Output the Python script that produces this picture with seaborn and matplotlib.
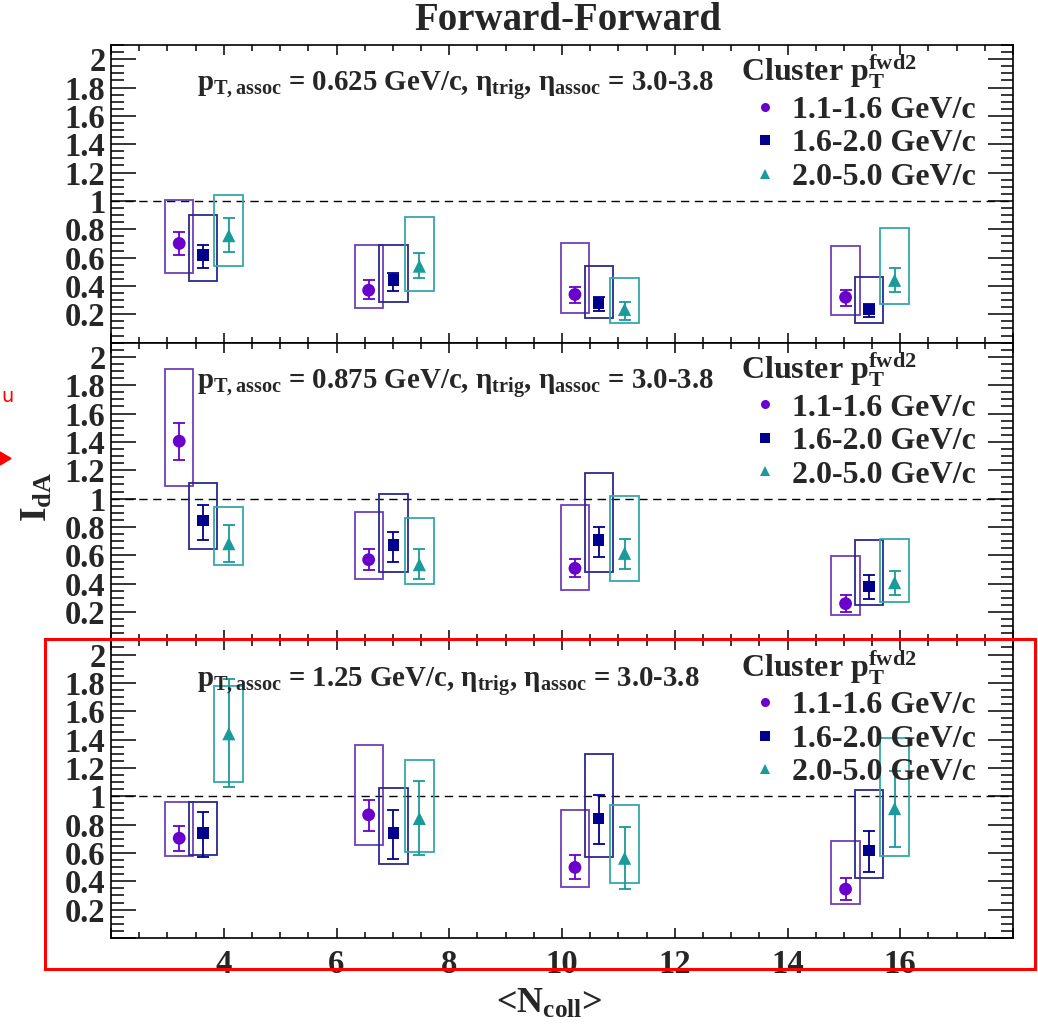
import numpy as np
import pandas as pd
import matplotlib
matplotlib.use("Agg")
import matplotlib.pyplot as plt
from matplotlib.patches import Rectangle, Polygon
from matplotlib.lines import Line2D
from matplotlib.ticker import MultipleLocator, FuncFormatter
import seaborn as sns

# ---------------- data ----------------
series = ["1.1-1.6 GeV/c", "1.6-2.0 GeV/c", "2.0-5.0 GeV/c"]
x_c = [3.21, 6.57, 10.23, 15.03]
x_s = [3.63, 7.01, 10.65, 15.45]
x_t = [4.09, 7.47, 11.11, 15.90]

pt_assoc = ["0.625", "0.875", "1.25"]

# panel 1 (pT,assoc = 0.625)
p1_c_val = [0.70, 0.37, 0.34, 0.32]
p1_c_hi = [0.78, 0.44, 0.39, 0.375]
p1_c_lo = [0.62, 0.31, 0.28, 0.257]
p1_c_sys_hi = [1.01, 0.69, 0.70, 0.685]
p1_c_sys_lo = [0.495, 0.244, 0.209, 0.193]
p1_s_val = [0.62, 0.44, 0.28, 0.235]
p1_s_hi = [0.69, 0.49, 0.32, 0.275]
p1_s_lo = [0.53, 0.365, 0.225, 0.178]
p1_s_sys_hi = [0.90, 0.69, 0.54, 0.46]
p1_s_sys_lo = [0.433, 0.287, 0.176, 0.14]
p1_t_val = [0.755, 0.54, 0.235, 0.44]
p1_t_hi = [0.88, 0.635, 0.287, 0.524]
p1_t_lo = [0.638, 0.453, 0.16, 0.358]
p1_t_sys_hi = [1.04, 0.89, 0.453, 0.81]
p1_t_sys_lo = [0.54, 0.365, 0.138, 0.271]

# panel 2 (pT,assoc = 0.875)
p2_c_val = [1.405, 0.569, 0.508, 0.259]
p2_c_hi = [1.534, 0.647, 0.576, 0.318]
p2_c_lo = [1.275, 0.494, 0.445, 0.20]
p2_c_sys_hi = [1.913, 0.906, 0.958, 0.595]
p2_c_sys_lo = [1.087, 0.433, 0.355, 0.181]
p2_s_val = [0.845, 0.671, 0.708, 0.381]
p2_s_hi = [0.958, 0.767, 0.80, 0.459]
p2_s_lo = [0.708, 0.553, 0.586, 0.294]
p2_s_sys_hi = [1.111, 1.033, 1.181, 0.708]
p2_s_sys_lo = [0.645, 0.485, 0.485, 0.252]
p2_t_val = [0.682, 0.534, 0.614, 0.407]
p2_t_hi = [0.812, 0.647, 0.715, 0.492]
p2_t_lo = [0.553, 0.433, 0.504, 0.318]
p2_t_sys_hi = [0.939, 0.864, 1.019, 0.715]
p2_t_sys_lo = [0.534, 0.398, 0.416, 0.268]

# panel 3 (pT,assoc = 1.25)
p3_c_val = [0.704, 0.869, 0.498, 0.345]
p3_c_hi = [0.791, 0.972, 0.585, 0.423]
p3_c_lo = [0.613, 0.758, 0.413, 0.268]
p3_c_sys_hi = [0.962, 1.359, 0.904, 0.681]
p3_c_sys_lo = [0.575, 0.653, 0.362, 0.239]
p3_s_val = [0.739, 0.739, 0.843, 0.617]
p3_s_hi = [0.892, 0.904, 1.007, 0.758]
p3_s_lo = [0.568, 0.559, 0.662, 0.467]
p3_s_sys_hi = [0.962, 1.059, 1.298, 1.042]
p3_s_sys_lo = [0.585, 0.523, 0.568, 0.423]
p3_t_val = [1.441, 0.843, 0.563, 0.913]
p3_t_hi = [1.829, 1.108, 0.784, 1.178]
p3_t_lo = [1.068, 0.585, 0.345, 0.645]
p3_t_sys_hi = [1.779, 1.256, 0.939, 1.411]
p3_t_sys_lo = [1.099, 0.61, 0.387, 0.577]

panels = [
    [(x_c, p1_c_val, p1_c_lo, p1_c_hi, p1_c_sys_lo, p1_c_sys_hi),
     (x_s, p1_s_val, p1_s_lo, p1_s_hi, p1_s_sys_lo, p1_s_sys_hi),
     (x_t, p1_t_val, p1_t_lo, p1_t_hi, p1_t_sys_lo, p1_t_sys_hi)],
    [(x_c, p2_c_val, p2_c_lo, p2_c_hi, p2_c_sys_lo, p2_c_sys_hi),
     (x_s, p2_s_val, p2_s_lo, p2_s_hi, p2_s_sys_lo, p2_s_sys_hi),
     (x_t, p2_t_val, p2_t_lo, p2_t_hi, p2_t_sys_lo, p2_t_sys_hi)],
    [(x_c, p3_c_val, p3_c_lo, p3_c_hi, p3_c_sys_lo, p3_c_sys_hi),
     (x_s, p3_s_val, p3_s_lo, p3_s_hi, p3_s_sys_lo, p3_s_sys_hi),
     (x_t, p3_t_val, p3_t_lo, p3_t_hi, p3_t_sys_lo, p3_t_sys_hi)],
]

# ---------------- style ----------------
marker_colors = ["#6a00cc", "#00008f", "#1a9a9a"]
box_colors = ["#7040b8", "#2a2a8c", "#35a8a8"]
markers = {series[0]: "o", series[1]: "s", series[2]: "^"}
msizes = {series[0]: 85, series[1]: 70, series[2]: 90}
box_w = [0.5, 0.5, 0.52]

sns.set_style("ticks")
plt.rcParams["font.family"] = ["Liberation Serif", "DejaVu Serif"]
plt.rcParams["font.weight"] = "bold"
plt.rcParams["mathtext.fontset"] = "custom"
plt.rcParams["mathtext.rm"] = "Liberation Serif:bold"
plt.rcParams["mathtext.it"] = "Liberation Serif:bold"
plt.rcParams["mathtext.bf"] = "Liberation Serif:bold"
plt.rcParams["mathtext.sf"] = "Liberation Serif:bold"

W, H = 1038, 1025
fig = plt.figure(figsize=(W / 100, H / 100), dpi=100)
gs = fig.add_gridspec(3, 1, left=111 / W, right=1013 / W, top=1 - 45 / H,
                      bottom=1 - 938 / H, hspace=0)
axes = [fig.add_subplot(gs[i]) for i in range(3)]
for ax in axes[1:]:
    ax.sharex(axes[0])

def yfmt(v, pos):
    if abs(v) < 1e-6:
        return ""
    return "%g" % round(v, 2)

def xfmt(v, pos):
    if abs(v - 2) < 1e-6 or abs(v - 18) < 1e-6:
        return ""
    return "%g" % v

palette = dict(zip(series, marker_colors))

for pi, ax in enumerate(axes):
    rows = []
    for si, (xs, val, lo, hi, slo, shi) in enumerate(panels[pi]):
        for k in range(len(xs)):
            rows.append({"x": xs[k], "y": val[k], "series": series[si]})
        # systematic boxes
        for k in range(len(xs)):
            ax.add_patch(Rectangle((xs[k] - box_w[si] / 2, slo[k]), box_w[si],
                                   shi[k] - slo[k], fill=False,
                                   edgecolor=box_colors[si], lw=1.3, zorder=2))
        v = np.array(val); l = np.array(lo); h = np.array(hi)
        ax.errorbar(xs, v, yerr=[v - l, h - v], fmt="none",
                    ecolor=marker_colors[si], elinewidth=1.3, capsize=4,
                    capthick=1.3, zorder=3)
    df = pd.DataFrame(rows)
    sns.scatterplot(data=df, x="x", y="y", hue="series", style="series",
                    size="series", sizes=msizes, palette=palette,
                    markers=markers, edgecolor="none", legend=False,
                    ax=ax, zorder=4)
    ax.axhline(1.0, color="black", lw=1.0, ls=(0, (6, 4)), zorder=1)

    ax.set_xlim(2, 18)
    ax.set_ylim(0, 2.1)
    ax.set_xlabel("")
    ax.set_ylabel("")
    ax.xaxis.set_major_locator(MultipleLocator(2))
    ax.xaxis.set_minor_locator(MultipleLocator(0.5))
    ax.yaxis.set_major_locator(MultipleLocator(0.2))
    ax.yaxis.set_minor_locator(MultipleLocator(0.05))
    ax.yaxis.set_major_formatter(FuncFormatter(yfmt))
    ax.xaxis.set_major_formatter(FuncFormatter(xfmt))
    ax.tick_params(which="both", direction="in", top=True, right=True,
                   width=1.1, color="black")
    ax.tick_params(axis="x", which="major", length=7.5)
    ax.tick_params(axis="x", which="minor", length=4.3)
    ax.tick_params(axis="y", which="major", length=18, labelsize=23.5, pad=4)
    ax.tick_params(axis="y", which="minor", length=9)
    ax.tick_params(axis="x", labelsize=23.5, pad=8)
    for sp in ax.spines.values():
        sp.set_linewidth(1.2)
        sp.set_color("black")
    if pi < 2:
        ax.tick_params(axis="x", labelbottom=False)

    ax.text(0.0953, 0.845,
            r"$\mathbf{p}_{\mathbf{T,assoc}}$ = " + pt_assoc[pi] +
            r" GeV/c, $\eta_{\mathbf{trig}}$, $\eta_{\mathbf{assoc}}$ = 3.0-3.8",
            transform=ax.transAxes, fontsize=20.8, fontweight="bold",
            va="baseline", ha="left")

    handles = [Line2D([], [], marker=markers[s], color=palette[s], ls="none",
                      markersize=6.5, markeredgewidth=0) for s in series]
    leg = ax.legend(handles, series, loc="upper left",
                    bbox_to_anchor=(0.699, 0.972), frameon=False,
                    title=r"Cluster $\mathbf{p}_{\mathbf{T}}^{\mathbf{fwd2}}$",
                    alignment="left", prop={"size": 23, "weight": "bold"},
                    title_fontproperties={"size": 23, "weight": "bold"},
                    handlelength=1.45, handletextpad=0.12, labelspacing=0.13,
                    borderpad=0, borderaxespad=0)

# titles / labels
fig.text(568 / W, 1 - 30 / H, "Forward-Forward", ha="center", va="baseline",
         fontsize=28, fontweight="bold")
fig.text(37 / W, 1 - 497 / H, r"$\mathbf{I}_{\mathbf{dA}}$", rotation=90,
         ha="center", va="center", fontsize=27)
fig.text(549 / W, 1 - 1004 / H, r"<$\mathbf{N}_{\mathbf{coll}}$>",
         ha="center", va="center", fontsize=26)

# red annotation marks (partial slide annotations at the left edge)
fig.patches.append(Rectangle((45 / W, 1 - 969 / H), (1035 - 45) / W,
                             (969 - 639) / H, fill=False, edgecolor="red",
                             lw=2.2, transform=fig.transFigure, figure=fig,
                             zorder=10))
fig.patches.append(Polygon([(0, 1 - 452 / H), (11 / W, 1 - 458.5 / H),
                            (0, 1 - 465 / H)], closed=True, color="red",
                           transform=fig.transFigure, figure=fig))
fig.text(1 / W, 1 - 397 / H, "u", color="red", fontsize=14, ha="left",
         va="center", family="DejaVu Sans", fontweight="normal")

fig.savefig("out.png", dpi=100)
